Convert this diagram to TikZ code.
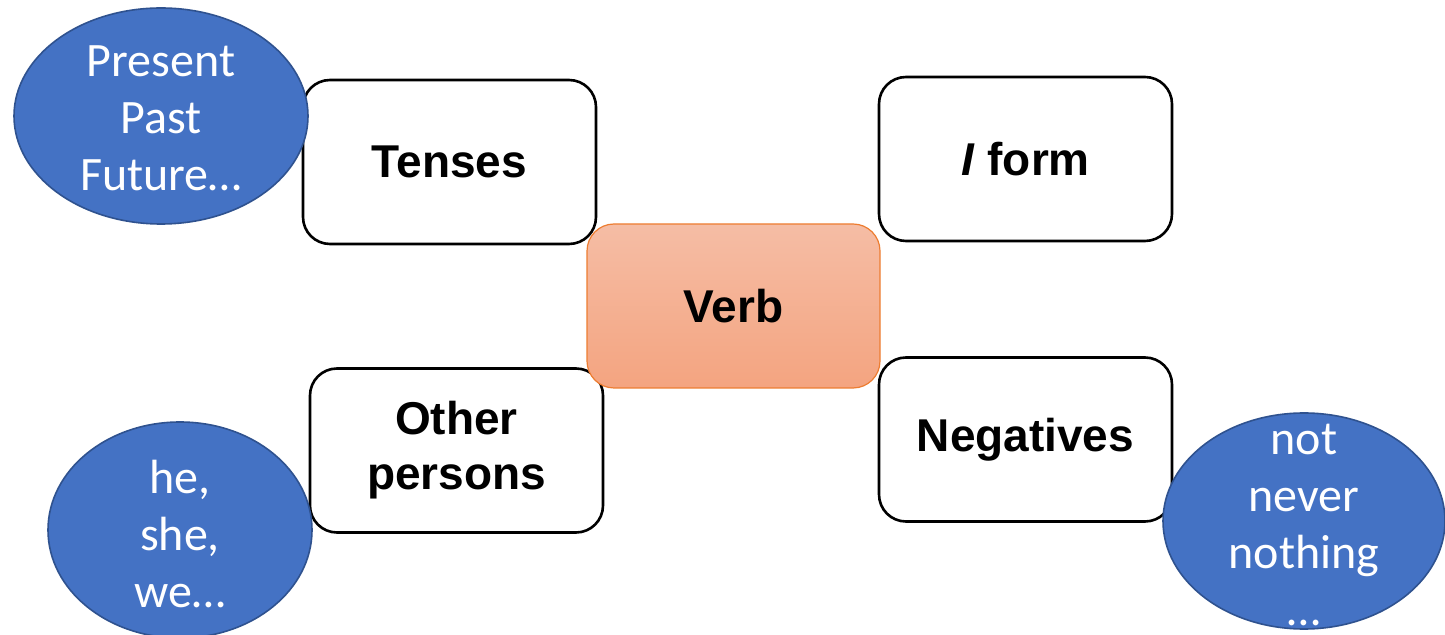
\documentclass[tikz,border=0pt]{standalone}
\usepackage{fontspec}
\setmainfont{Liberation Sans}
\newfontfamily\calib{Carlito}
\usetikzlibrary{shapes.geometric}
\definecolor{blobfill}{HTML}{4472C4}
\definecolor{blobline}{HTML}{2F528F}
\definecolor{verbtop}{HTML}{F5BDA5}
\definecolor{verbbot}{HTML}{F4A480}
\definecolor{verbline}{HTML}{ED7D31}
\tikzset{
  topic/.style={draw=black, line width=1.3pt, fill=white, rounded corners=13.5pt,
    minimum width=146.5pt, minimum height=82pt, inner sep=0pt, align=center,
    font=\bfseries\fontsize{23}{27.5}\selectfont},
  core/.style={draw=verbline, line width=0.6pt, top color=verbtop, bottom color=verbbot,
    rounded corners=13.5pt, minimum width=146.5pt, minimum height=82pt, inner sep=0pt,
    font=\bfseries\fontsize{23}{27.5}\selectfont},
  blob/.style={ellipse, draw=blobline, line width=0.8pt, fill=blobfill, inner sep=0pt},
  blobtext/.style={text=white, align=center, inner sep=0pt,
    font=\calib\fontsize{24}{28.5}\selectfont}
}
\begin{document}
\begin{tikzpicture}[x=0.5pt,y=-0.5pt]
\useasboundingbox (0,0) rectangle (1445,635);
% boxes
\node[topic] (tenses) at (449.5,162) {Tenses};
\node[topic] (iform) at (1025.5,159) {\textit{I} form};
\node[topic] (other) at (456.5,450.5) {Other\\persons};
\node[topic] (neg) at (1025.5,439.5) {Negatives};
\node[core] (verb) at (733.5,306) {Verb};
% ellipses
\node[blob, minimum width=147pt, minimum height=108pt] (e1) at (161,116) {};
\node[blobtext] (t1) at ([yshift=-1pt]e1.center) {Present\\Past\\Future…};
\node[blob, minimum width=132pt, minimum height=108pt] (e2) at (180,530) {};
\node[blobtext] (t2) at ([yshift=-2pt]e2.center) {he,\\she,\\we…};
\node[blob, minimum width=141pt, minimum height=108pt] (e3) at (1304,521) {};
\node[blobtext] (t3) at ([yshift=-2pt]e3.center) {not\\never\\nothing\\…};
\end{tikzpicture}
\end{document}
